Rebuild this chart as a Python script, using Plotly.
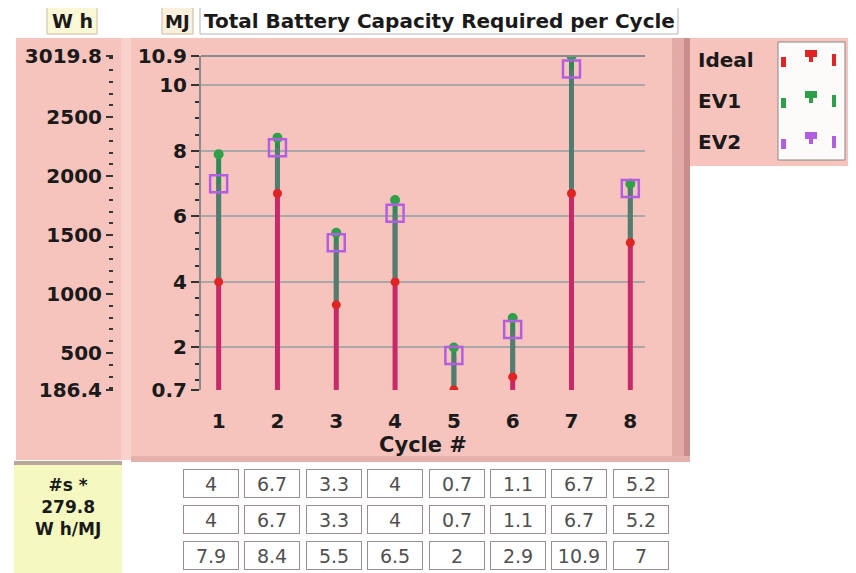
import plotly.graph_objects as go

# the page body adds an 8px margin, so the figure is drawn 8px smaller and all
# positions below are given in window pixels, shifted by that margin
OFF = 8
W, H = 856 - OFF, 573 - OFF

cycles = [1, 2, 3, 4, 5, 6, 7, 8]
ideal_mj = [4, 6.7, 3.3, 4, 0.7, 1.1, 6.7, 5.2]
ev1_mj = [7.9, 8.4, 5.5, 6.5, 2, 2.9, 10.9, 7]
ev2_mj = [7.0, 8.1, 5.2, 6.1, 1.75, 2.55, 10.5, 6.85]

table_row1 = ["4", "6.7", "3.3", "4", "0.7", "1.1", "6.7", "5.2"]
table_row2 = ["4", "6.7", "3.3", "4", "0.7", "1.1", "6.7", "5.2"]
table_row3 = ["7.9", "8.4", "5.5", "6.5", "2", "2.9", "10.9", "7"]

mj_range = [0.7, 10.9]
mj_ticks = [0.7, 2, 4, 6, 8, 10, 10.9]
wh_range = [186.4, 3019.8]
wh_ticks = [186.4, 500, 1000, 1500, 2000, 2500, 3019.8]
wh_per_mj = 279.8

series_names = ["Ideal", "EV1", "EV2"]
series_colors = ["#e02424", "#2ea04a", "#b25ee0"]

FONT = "DejaVu Sans"
PINK = "#f7c3bd"
INK = "#1a1a1a"


def px_x(v):
    return (v - OFF) / W


def px_y(v):
    return 1 - (v - OFF) / H


def stem_xy(lo, hi):
    xs, ys = [], []
    for c, a, b in zip(cycles, lo, hi):
        xs += [c, c, None]
        ys += [a, b, None]
    return xs, ys


fig = go.Figure()

# stems: base -> ideal, ideal -> EV1, ideal -> EV2
xs, ys = stem_xy([mj_range[0]] * len(cycles), ideal_mj)
fig.add_trace(go.Scatter(x=xs, y=ys, mode="lines", line=dict(color="#c8296a", width=5),
                         hoverinfo="skip", showlegend=False))
xs, ys = stem_xy(ideal_mj, ev1_mj)
fig.add_trace(go.Scatter(x=xs, y=ys, mode="lines", line=dict(color="#2e8b57", width=5),
                         hoverinfo="skip", showlegend=False))
xs, ys = stem_xy(ideal_mj, ev2_mj)
fig.add_trace(go.Scatter(x=xs, y=ys, mode="lines", line=dict(color="rgba(115,110,135,0.5)", width=5),
                         hoverinfo="skip", showlegend=False))

fig.add_trace(go.Scatter(x=cycles, y=ev1_mj, mode="markers", name="EV1",
                         marker=dict(color=series_colors[1], size=10), showlegend=False))
fig.add_trace(go.Scatter(x=cycles, y=ev2_mj, mode="markers", name="EV2",
                         marker=dict(color=series_colors[2], size=17, symbol="square-open",
                                     line=dict(width=2.5, color=series_colors[2])),
                         showlegend=False))
fig.add_trace(go.Scatter(x=cycles, y=ideal_mj, mode="markers", name="Ideal",
                         marker=dict(color=series_colors[0], size=9), showlegend=False))

# invisible trace so the W h axis is drawn
fig.add_trace(go.Scatter(x=cycles, y=[v * wh_per_mj for v in ev1_mj], yaxis="y2",
                         mode="markers", marker=dict(opacity=0), hoverinfo="skip",
                         showlegend=False))

shapes = []


def rect(x0, y0, x1, y1, fill, line=None, lw=0):
    shapes.append(dict(type="rect", xref="paper", yref="paper", layer="below",
                       x0=px_x(x0), x1=px_x(x1), y0=px_y(y1), y1=px_y(y0),
                       fillcolor=fill, line=dict(color=line or fill, width=lw)))


# panels
rect(16, 38, 121, 460, PINK)
rect(121, 38, 131, 460, "#f9d2cd")
rect(131, 38, 690, 462, PINK)
rect(672, 38, 690, 462, "#e3aaa6")
rect(684, 38, 690, 462, "#c98e8b")
rect(131, 456, 690, 462, "#e6b0ab")
rect(690, 38, 856, 166, PINK)
rect(778, 42, 845, 160, "#fdfafa", "#8a8a8a", 1)
rect(14, 463, 122, 573, "#f5f9bf")
rect(14, 461, 122, 465, "#b9a59a")
rect(200, 7, 678, 34, "#ffffff", "#b5b5b5", 1)
rect(47, 7, 97, 34, "#fbf8d6", "#c8c0a0", 1)
rect(162, 7, 193, 34, "#fbf0dc", "#c8b8a0", 1)

# legend glyphs
legend_y = [60, 101, 142]
for col, yc in zip(series_colors, legend_y):
    rect(781, yc - 3, 786, yc + 7, col)
    rect(805, yc - 10, 817, yc - 3, col)
    rect(809, yc - 3, 813, yc + 2, col)
    rect(832, yc - 6, 836, yc + 6, col)

annotations = []


def label(text, x, y, size=17, bold=True, anchor="center", color=INK):
    annotations.append(dict(text=f"<b>{text}</b>" if bold else text, xref="paper", yref="paper",
                            x=px_x(x), y=px_y(y), xanchor=anchor, yanchor="middle",
                            showarrow=False, font=dict(family=FONT, size=size, color=color)))


label("W h", 72, 21, size=19)
label("MJ", 177, 21, size=18)
label("Total Battery Capacity Required per Cycle", 439, 21, size=20)
for name, yc in zip(series_names, legend_y):
    label(name, 696, yc, size=20, anchor="left")
label("#s *<br>279.8<br>W h/MJ", 68, 507, size=17)

# value table
for r, row in enumerate([table_row1, table_row2, table_row3]):
    yc = 483 + r * 36
    for c, val in enumerate(row):
        xc = 211 + c * 61.4
        annotations.append(dict(text=val, xref="paper", yref="paper", x=px_x(xc), y=px_y(yc),
                                xanchor="center", yanchor="middle", showarrow=False,
                                width=52, height=25, bgcolor="#ffffff",
                                bordercolor="#9a8f8f", borderwidth=1, borderpad=1,
                                font=dict(family=FONT, size=19, color="#505050")))

tick_font = dict(family=FONT, size=20, color=INK)

fig.update_layout(
    width=W, height=H,
    autosize=False,
    margin=dict(l=0, r=0, t=0, b=0, pad=0, autoexpand=False),
    paper_bgcolor="#ffffff",
    plot_bgcolor="#fbfbfb",
    showlegend=False,
    shapes=shapes,
    annotations=annotations,
    xaxis=dict(
        domain=[px_x(201), px_x(645)], range=[0.7, 8.25], automargin=False,
        tickvals=cycles, ticktext=[f"<b>{c}</b>" for c in cycles],
        ticks="outside", ticklen=13, tickcolor="rgba(0,0,0,0)",
        showgrid=False, zeroline=False, showline=False,
        tickfont=tick_font,
        title=dict(text="<b>Cycle #</b>", standoff=0,
                   font=dict(family=FONT, size=21, color=INK)),
    ),
    yaxis=dict(
        domain=[px_y(390), px_y(56)], range=mj_range, automargin=False,
        tickvals=mj_ticks, ticktext=[f"<b>{t}</b>" for t in mj_ticks],
        ticks="outside", ticklen=8, tickwidth=2, tickcolor="#333333",
        minor=dict(dtick=0.5, tick0=0, ticks="outside", ticklen=4, tickwidth=2,
                   tickcolor="#333333", showgrid=False),
        showgrid=True, gridcolor="#a8a8a8", gridwidth=1.5, zeroline=False,
        showline=True, linecolor="#8a8a8a", linewidth=2, mirror=False,
        tickfont=tick_font,
    ),
    yaxis2=dict(
        overlaying="y", anchor="free", position=px_x(113), side="left", automargin=False,
        range=wh_range, tickvals=wh_ticks, ticktext=[f"<b>{t}</b>" for t in wh_ticks],
        ticks="outside", ticklen=7, tickwidth=2, tickcolor="#333333",
        minor=dict(dtick=100, tick0=0, ticks="outside", ticklen=4, tickwidth=2,
                   tickcolor="#333333", showgrid=False),
        showgrid=False, zeroline=False, showline=False,
        tickfont=tick_font,
    ),
)

# top border of the plot area
fig.add_shape(type="line", xref="paper", yref="paper", x0=px_x(201), x1=px_x(645),
              y0=px_y(56), y1=px_y(56), line=dict(color="#8a8a8a", width=2))

fig.write_html("out.html")
